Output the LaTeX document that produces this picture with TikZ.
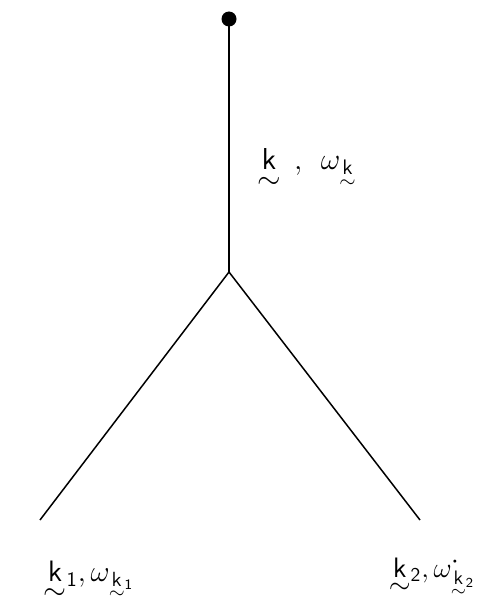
\documentclass[tikz,border=0pt]{standalone}
\usepackage{amsmath}
\newcommand{\tk}[1]{\underset{\textstyle\sim}{\mathsf{#1}}}
\newcommand{\tks}[1]{\underset{\scriptstyle\sim}{\mathsf{#1}}}
\tikzset{edge/.style={line width=1.5pt},
 lbl/.style={font=\Large\sffamily}}
\begin{document}
\begin{tikzpicture}[x=1pt,y=-1pt]
\useasboundingbox (0,0) rectangle (487,610);
\coordinate (top) at (229,19);
\coordinate (mid) at (229,272);
\coordinate (l) at (40,520);
\coordinate (r) at (420,520);
\fill (top) circle (7.5);
\draw[edge] (top) -- (mid);
\draw[edge] (mid) -- (l);
\draw[edge] (mid) -- (r);
\node[lbl] (lk) at (307,170) {\scalebox{2.1}{$\tk{k}\;\,,\;\,\omega_{\tks{k}}$}};
\node[lbl] (l1) at (89,582) {\scalebox{2.05}{$\tk{k}{}_{\mathsf{1}},\omega_{\tks{k}{}_{\mathsf{1}}}$}};
\node[lbl] (l2) at (432,578) {\scalebox{1.95}{$\tk{k}{}_{\mathsf{2}},\omega_{\tks{k}{}_{\mathsf{2}}}^{\boldsymbol\cdot}$}};
\end{tikzpicture}
\end{document}
